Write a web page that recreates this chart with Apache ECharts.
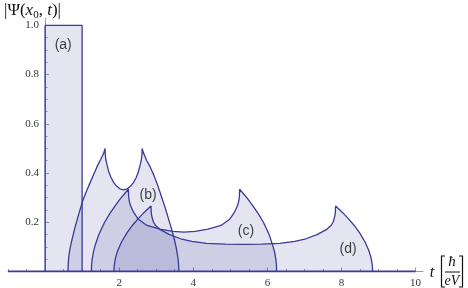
<!DOCTYPE html>
<html>
<head>
<meta charset="utf-8">
<script src="https://cdn.jsdelivr.net/npm/echarts@6/dist/echarts.min.js"></script>
<style>html,body{margin:0;padding:0;background:#fff;}#c{width:468px;height:288px;}</style>
</head>
<body>
<div id="c"></div>
<script>
// ---- data ----
const aT = [0, 0, 1, 1];
const aY = [0, 1, 1, 0];

const bT = [0.62,0.625,0.64,0.67,0.72,0.76,0.80,0.90,1.00,1.10,1.20,1.30,1.40,1.50,1.58,1.62,
  1.625,1.64,1.67,1.72,1.78,1.85,1.93,2.02,2.12,2.22,2.31,2.39,2.46,2.52,2.57,2.60,2.615,2.62,
  2.66,2.74,2.84,2.94,3.04,3.14,3.24,3.34,3.42,3.49,3.55,3.59,3.605,3.61];
const bY = [0,0.03,0.06,0.09,0.125,0.15,0.175,0.228,0.28,0.32,0.355,0.39,0.425,0.455,0.48,0.5,
  0.475,0.455,0.435,0.405,0.382,0.362,0.347,0.336,0.332,0.336,0.347,0.362,0.382,0.405,0.435,0.455,0.475,0.5,
  0.48,0.452,0.424,0.39,0.35,0.305,0.26,0.21,0.17,0.13,0.09,0.05,0.025,0];

const cT = [1.25,1.255,1.27,1.30,1.35,1.45,1.60,1.75,1.90,2.05,2.17,2.25,
  2.255,2.27,2.30,2.34,2.40,2.52,2.75,3.10,3.45,3.75,4.05,4.40,4.75,4.98,5.10,5.16,5.20,5.23,5.245,5.25,
  5.33,5.45,5.60,5.75,5.90,6.05,6.15,6.20,6.23,6.245,6.25];
const cY = [0,0.025,0.047,0.075,0.106,0.149,0.198,0.236,0.269,0.299,0.320,0.334,
  0.305,0.288,0.27,0.256,0.238,0.212,0.187,0.172,0.163,0.16,0.163,0.172,0.187,0.212,0.238,0.256,0.27,0.288,0.305,0.334,
  0.320,0.299,0.269,0.236,0.198,0.149,0.103,0.075,0.047,0.025,0];

const dT = [1.86,1.865,1.88,1.91,1.96,2.06,2.21,2.36,2.51,2.66,2.78,2.86,
  2.865,2.88,2.92,2.97,3.11,3.36,3.66,3.96,4.36,4.86,5.35,5.84,6.34,6.74,7.04,7.34,7.59,7.73,7.78,7.82,7.835,7.84,
  7.92,8.04,8.19,8.34,8.49,8.64,8.74,8.79,8.82,8.835,8.84];
const dY = [0,0.02,0.038,0.06,0.084,0.119,0.157,0.188,0.214,0.238,0.255,0.266,
  0.24,0.225,0.203,0.189,0.17,0.15,0.133,0.122,0.114,0.111,0.11,0.111,0.114,0.122,0.133,0.15,0.17,0.189,0.203,0.225,0.24,0.266,
  0.255,0.238,0.214,0.188,0.157,0.119,0.084,0.06,0.038,0.02,0];

const baseT = [-1, 10];
const baseY = [0, 0];

const labelNames = ['(a)', '(b)', '(c)', '(d)'];
const labelT = [0.49, 2.78, 5.42, 8.18];
const labelY = [0.92, 0.311, 0.162, 0.091];

const xMajorTicks = [2, 4, 6, 8, 10];
const xMinorTicks = [-1, -0.5, 0.5, 1, 1.5, 2.5, 3, 3.5, 4.5, 5, 5.5, 6.5, 7, 7.5, 8.5, 9, 9.5];
const yMajorTicks = [0.2, 0.4, 0.6, 0.8, 1.0];
const yMinorTicks = [0.05,0.1,0.15,0.25,0.3,0.35,0.45,0.5,0.55,0.65,0.7,0.75,0.85,0.9,0.95];

// ---- chart ----
const zip = (t, y) => t.map((v, i) => [v, y[i]]);
const LINE = '#3a3a98';
const FILL = 'rgba(60,60,150,0.19)';
const AXIS = '#9a9a9a';
const labelFont = {fontFamily: 'Liberation Serif', fontSize: 11, color: '#333'};

const X_MIN = -1, X_MAX = 10.2, GRID_L = 8, GRID_R = 45, W = 468;
// y axis sits at t = 0 inside the grid
const yAxisShift = -(0 - X_MIN) / (X_MAX - X_MIN) * (W - GRID_L - GRID_R);

function curve(name, t, y) {
  return {
    name, type: 'line', data: zip(t, y), symbol: 'none', showSymbol: false,
    lineStyle: {color: LINE, width: 1.3}, areaStyle: {color: FILL},
    xAxisIndex: 0, yAxisIndex: 0, silent: true, z: 2
  };
}

const chart = echarts.init(document.getElementById('c'), null, {renderer: 'canvas'});
chart.setOption({
  animation: false,
  grid: {left: GRID_L, right: GRID_R, top: 18, bottom: 16.5, containLabel: false, outerBoundsMode: 'none'},
  xAxis: [
    {type: 'value', min: X_MIN, max: X_MAX, position: 'bottom',
     axisLine: {onZero: false, lineStyle: {color: AXIS, width: 1}},
     axisTick: {inside: true, length: 4, customValues: xMajorTicks, lineStyle: {color: AXIS}},
     axisLabel: Object.assign({customValues: xMajorTicks, margin: 6}, labelFont),
     splitLine: {show: false}},
    {type: 'value', min: X_MIN, max: X_MAX, position: 'bottom',
     axisLine: {show: false, onZero: false},
     axisTick: {inside: true, length: 2.5, customValues: xMinorTicks, lineStyle: {color: AXIS}},
     axisLabel: {show: false}, splitLine: {show: false}}
  ],
  yAxis: [
    {type: 'value', min: 0, max: 1.03, position: 'left', offset: yAxisShift,
     axisLine: {onZero: false, lineStyle: {color: AXIS, width: 1}},
     axisTick: {inside: true, length: 4, customValues: yMajorTicks, lineStyle: {color: AXIS}},
     axisLabel: Object.assign({customValues: yMajorTicks, margin: 6,
       formatter: v => v.toFixed(1)}, labelFont),
     splitLine: {show: false}},
    {type: 'value', min: 0, max: 1.03, position: 'left', offset: yAxisShift,
     axisLine: {show: false, onZero: false},
     axisTick: {inside: true, length: 2.5, customValues: yMinorTicks, lineStyle: {color: AXIS}},
     axisLabel: {show: false}, splitLine: {show: false}}
  ],
  series: [
    curve('a', aT, aY),
    curve('b', bT, bY),
    curve('c', cT, cY),
    curve('d', dT, dY),
    {name: 'base', type: 'line', data: zip(baseT, baseY), symbol: 'none',
     lineStyle: {color: LINE, width: 1.8}, silent: true, z: 3},
    {name: 'labels', type: 'scatter', symbolSize: 0, silent: true, z: 5,
     data: labelNames.map((n, i) => ({name: n, value: [labelT[i], labelY[i]]})),
     label: {show: true, position: 'inside', formatter: '{b}',
       fontFamily: 'Liberation Sans', fontSize: 14, color: '#111'}}
  ],
  graphic: [
    {type: 'text', left: 4, top: 2, style: {
      text: '{n||Ψ(}{i|x}{s|0}{n|,}{i| t}{n|)|}',
      rich: {
        n: {fontFamily: 'Liberation Serif', fontSize: 17, lineHeight: 20, fill: '#111'},
        i: {fontFamily: 'Liberation Serif', fontStyle: 'italic', fontSize: 17, lineHeight: 20, fill: '#111'},
        s: {fontFamily: 'Liberation Serif', fontSize: 11, lineHeight: 6, verticalAlign: 'bottom', fill: '#111'}
      }}},
    {type: 'text', x: 432, y: 273, style: {text: 't', fontFamily: 'Liberation Serif', fontStyle: 'italic',
      fontSize: 16, fill: '#111', align: 'center', verticalAlign: 'middle'}},
    {type: 'polyline', shape: {points: [[445, 256], [441.5, 256], [441.5, 287], [445, 287]]},
      style: {stroke: '#111', lineWidth: 1.2, fill: null}},
    {type: 'polyline', shape: {points: [[459, 256], [462.5, 256], [462.5, 287], [459, 287]]},
      style: {stroke: '#111', lineWidth: 1.2, fill: null}},
    {type: 'text', x: 452, y: 262, style: {text: 'ħ', fontFamily: 'Liberation Serif', fontStyle: 'italic',
      fontSize: 15, fill: '#111', align: 'center', verticalAlign: 'middle'}},
    {type: 'line', shape: {x1: 445, y1: 272, x2: 460, y2: 272}, style: {stroke: '#111', lineWidth: 1}},
    {type: 'text', x: 452, y: 281, style: {text: 'eV', fontFamily: 'Liberation Serif', fontStyle: 'italic',
      fontSize: 14, fill: '#111', align: 'center', verticalAlign: 'middle'}}
  ]
});
</script>
</body>
</html>
